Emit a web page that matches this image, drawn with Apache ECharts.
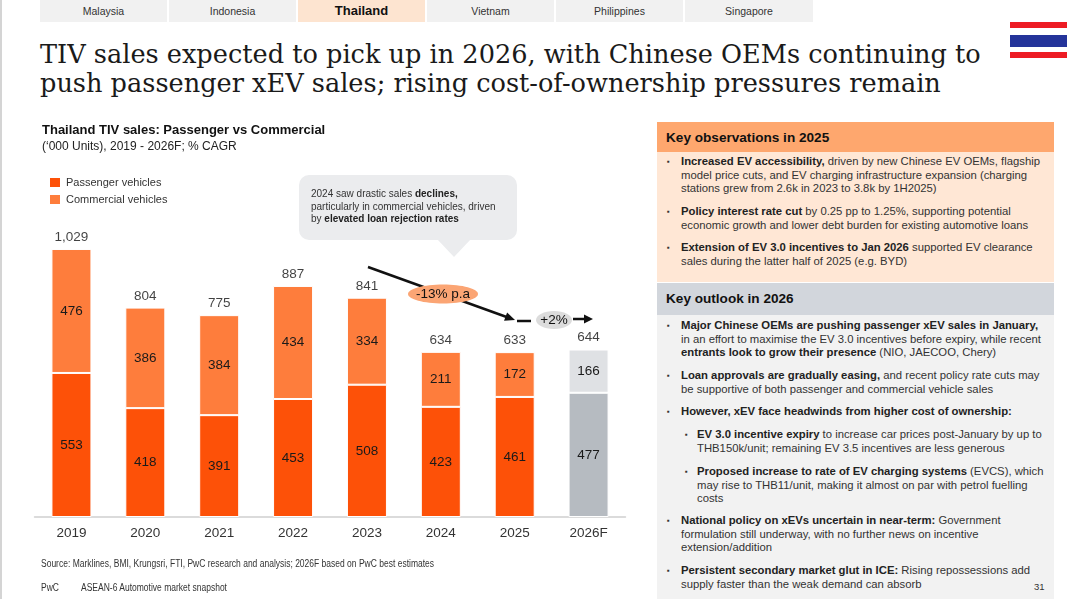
<!DOCTYPE html>
<html>
<head>
<meta charset="utf-8">
<script src="https://cdn.jsdelivr.net/npm/echarts@6/dist/echarts.min.js"></script>
<style>
body { margin: 0; width: 1080px; height: 599px; position: relative; overflow: hidden; background: #fff;
       font-family: 'Liberation Sans', Arial, sans-serif; color: #2b2b2b; }
.abs { position: absolute; white-space: nowrap; }
.tab { position: absolute; top: 0; height: 22px; background: #f1f1f1; font-size: 10.5px; line-height: 23px;
       text-align: center; color: #333; }
.tab.on { background: #fde4d0; font-size: 13px; font-weight: bold; color: #111; line-height: 22px; }
#title { left: 40px; top: 40px; font-family: 'DejaVu Serif', serif; font-size: 25.6px; line-height: 29px; color: #1a1a1a; }
.narrow { font-size: 10px; color: #333; transform: scaleX(0.85); transform-origin: 0 50%; }
.panel { position: absolute; left: 657px; width: 397px; }
.head { font-size: 13.6px; font-weight: bold; color: #111; padding-left: 9px; box-sizing: border-box; }
.item { position: absolute; font-size: 11.3px; line-height: 13.5px; color: #333; white-space: nowrap; }
.item .bl { position: absolute; left: 0; top: 0; font-size: 8px; }
.item .tx { padding-left: 14px; }
.item b { color: #222; }
#chart { position: absolute; left: 0; top: 0; width: 640px; height: 599px; }
</style>
</head>
<body>
<div style="position:absolute;left:0;top:0;width:2px;height:599px;background:#d4d4d4"></div>

<div class="tab" style="left:40px;width:127px">Malaysia</div>
<div class="tab" style="left:169px;width:127px">Indonesia</div>
<div class="tab on" style="left:298px;width:127px">Thailand</div>
<div class="tab" style="left:427px;width:127px">Vietnam</div>
<div class="tab" style="left:556px;width:127px">Philippines</div>
<div class="tab" style="left:685px;width:128px">Singapore</div>

<div class="abs" style="left:1010px;top:22px;width:57px;height:6px;background:#ed1c24"></div>
<div class="abs" style="left:1010px;top:35px;width:57px;height:12px;background:#24349a"></div>
<div class="abs" style="left:1010px;top:52px;width:57px;height:6px;background:#ed1c24"></div>

<div id="title" class="abs">TIV sales expected to pick up in 2026, with Chinese OEMs continuing to<br>push passenger xEV sales; rising cost-of-ownership pressures remain</div>

<div id="chart"></div>

<div class="abs" style="left:42px;top:122px;font-size:13px;font-weight:bold;color:#111">Thailand TIV sales: Passenger vs Commercial</div>
<div class="abs" style="left:42px;top:139px;font-size:12px;color:#222">(‘000 Units), 2019 - 2026F; % CAGR</div>

<div class="abs narrow" style="left:41px;top:558px">Source: Marklines, BMI, Krungsri, FTI, PwC research and analysis; 2026F based on PwC best estimates</div>
<div class="abs narrow" style="left:41px;top:582px">PwC</div>
<div class="abs narrow" style="left:81px;top:582px">ASEAN-6 Automotive market snapshot</div>

<div class="panel head" style="top:122px;height:30px;line-height:31px;background:#fea76e">Key observations in 2025</div>
<div class="panel" style="top:152px;height:130px;background:#ffe7d5"></div>
<div class="panel head" style="top:283px;height:32px;line-height:32px;background:#d2d6dc">Key outlook in 2026</div>
<div class="panel" style="top:315px;height:284px;background:#f2f2f2"></div>

<div class="item" style="left:667px;top:155px"><span class="bl">▪</span><div class="tx"><b>Increased EV accessibility,</b> driven by new Chinese EV OEMs, flagship<br>model price cuts, and EV charging infrastructure expansion (charging<br>stations grew from 2.6k in 2023 to 3.8k by 1H2025)</div></div>
<div class="item" style="left:667px;top:205px"><span class="bl">▪</span><div class="tx"><b>Policy interest rate cut</b> by 0.25 pp to 1.25%, supporting potential<br>economic growth and lower debt burden for existing automotive loans</div></div>
<div class="item" style="left:667px;top:241px"><span class="bl">▪</span><div class="tx"><b>Extension of EV 3.0 incentives to Jan 2026</b> supported EV clearance<br>sales during the latter half of 2025 (e.g. BYD)</div></div>

<div class="item" style="left:667px;top:319px"><span class="bl">▪</span><div class="tx"><b>Major Chinese OEMs are pushing passenger xEV sales in January,</b><br>in an effort to maximise the EV 3.0 incentives before expiry, while recent<br><b>entrants look to grow their presence</b> (NIO, JAECOO, Chery)</div></div>
<div class="item" style="left:667px;top:369px"><span class="bl">▪</span><div class="tx"><b>Loan approvals are gradually easing,</b> and recent policy rate cuts may<br>be supportive of both passenger and commercial vehicle sales</div></div>
<div class="item" style="left:667px;top:405px"><span class="bl">▪</span><div class="tx"><b>However, xEV face headwinds from higher cost of ownership:</b></div></div>
<div class="item" style="left:685px;top:428px"><span class="bl">▪</span><div class="tx" style="padding-left:12px"><b>EV 3.0 incentive expiry</b> to increase car prices post-January by up to<br>THB150k/unit; remaining EV 3.5 incentives are less generous</div></div>
<div class="item" style="left:685px;top:465px"><span class="bl">▪</span><div class="tx" style="padding-left:12px"><b>Proposed increase to rate of EV charging systems</b> (EVCS), which<br>may rise to THB11/unit, making it almost on par with petrol fuelling<br>costs</div></div>
<div class="item" style="left:667px;top:514px"><span class="bl">▪</span><div class="tx"><b>National policy on xEVs uncertain in near-term:</b> Government<br>formulation still underway, with no further news on incentive<br>extension/addition</div></div>
<div class="item" style="left:667px;top:564px"><span class="bl">▪</span><div class="tx"><b>Persistent secondary market glut in ICE:</b> Rising repossessions add<br>supply faster than the weak demand can absorb</div></div>
<div class="abs" style="left:1034px;top:581px;font-size:9.5px;color:#333">31</div>

<script>
// chart values, '000 units
var years = ['2019', '2020', '2021', '2022', '2023', '2024', '2025', '2026F'];
var passenger = [553, 418, 391, 453, 508, 423, 461, 477];
var commercial = [476, 386, 384, 434, 334, 211, 172, 166];
var totals = [1029, 804, 775, 887, 841, 634, 633, 644];
var cagrLabels = ['-13% p.a', '+2%'];
var seriesNames = ['Passenger vehicles', 'Commercial vehicles'];

var sans = "'Liberation Sans', Arial, sans-serif";
var fcIdx = years.indexOf('2026F');

// forecast year gets grey bars
function styled(vals, normal, forecast) {
    return vals.map((v, i) => ({ value: v, itemStyle: { color: i === fcIdx ? forecast : normal } }));
}

// arrowhead triangle pointing from (x1,y1) to (x2,y2)
function arrowHead(x1, y1, x2, y2, len, half) {
    var a = Math.atan2(y2 - y1, x2 - x1);
    var bx = x2 - len * Math.cos(a), by = y2 - len * Math.sin(a);
    return [[x2, y2],
            [bx + half * Math.sin(a), by - half * Math.cos(a)],
            [bx - half * Math.sin(a), by + half * Math.cos(a)]];
}

var chart = echarts.init(document.getElementById('chart'));
var inLabel = { show: true, position: 'inside', color: '#1a1a1a', fontSize: 13.5, fontFamily: sans };

var option = {
    animation: false,
    grid: { left: 34.5, right: 14.5, top: 230.5, bottom: 82 },
    legend: {
        data: seriesNames, orient: 'vertical', left: 43, top: 171,
        icon: 'rect', itemWidth: 12, itemHeight: 11, itemGap: 4,
        textStyle: { fontSize: 11, color: '#333', fontFamily: sans }
    },
    xAxis: {
        type: 'category', data: years,
        axisLine: { lineStyle: { color: '#d0d0d0', width: 1.5 } },
        axisTick: { length: 4, lineStyle: { color: '#d0d0d0' } },
        axisLabel: { color: '#333', fontSize: 13.5, fontFamily: sans, margin: 9 }
    },
    yAxis: { type: 'value', min: 0, max: 1100, show: false, splitLine: { show: false } },
    series: [
        { name: seriesNames[0], type: 'bar', stack: 'tiv', barWidth: 40,
          itemStyle: { color: '#fd5108', borderColor: '#fff', borderWidth: 1 },
          label: inLabel, data: styled(passenger, '#fd5108', '#b6bbc1') },
        { name: seriesNames[1], type: 'bar', stack: 'tiv', barWidth: 40,
          itemStyle: { color: '#fe7d3c', borderColor: '#fff', borderWidth: 1 },
          label: inLabel, data: styled(commercial, '#fe7d3c', '#dfe1e4') },
        { name: 'Total', type: 'scatter', symbolSize: 1, itemStyle: { color: 'rgba(0,0,0,0)' },
          label: { show: true, position: 'top', distance: 4, color: '#111', fontSize: 13.5, fontFamily: sans,
                   formatter: (p) => totals[p.dataIndex].toLocaleString('en-US') },
          data: totals, z: 5 }
    ],
    graphic: [
        // callout bubble
        { type: 'rect', shape: { x: 299, y: 175, width: 218, height: 65, r: 10 }, style: { fill: '#ebecee' } },
        { type: 'polygon', shape: { points: [[437, 239], [471, 239], [454, 257]] }, style: { fill: '#ebecee' } },
        { type: 'text', x: 311, y: 188,
          style: { text: '{n|2024 saw drastic sales }{b|declines,}\n{n|particularly in commercial vehicles, driven}\n{n|by }{b|elevated loan rejection rates}',
                   rich: { n: { fontSize: 10, fill: '#333', lineHeight: 12.5, fontFamily: sans },
                           b: { fontSize: 10, fill: '#222', fontWeight: 'bold', lineHeight: 12.5, fontFamily: sans } } } },
        // -13% trend arrow
        { type: 'line', shape: { x1: 368, y1: 267, x2: 508, y2: 317.5 }, style: { stroke: '#111', lineWidth: 2.5 } },
        { type: 'polygon', shape: { points: arrowHead(368, 267, 515, 320, 10, 4.5) }, style: { fill: '#111' } },
        { type: 'ellipse', shape: { cx: 443, cy: 294, rx: 35, ry: 9.5 }, style: { fill: '#fba574' } },
        { type: 'text', x: 443, y: 294, style: { text: cagrLabels[0], align: 'center', verticalAlign: 'middle', fontSize: 13.5, fontFamily: sans, fill: '#111' } },
        // +2% arrow
        { type: 'line', shape: { x1: 517, y1: 321, x2: 531, y2: 321 }, style: { stroke: '#111', lineWidth: 2.5 } },
        { type: 'ellipse', shape: { cx: 554, cy: 320, rx: 18, ry: 9 }, style: { fill: '#dcdcdc' } },
        { type: 'text', x: 554, y: 320, style: { text: cagrLabels[1], align: 'center', verticalAlign: 'middle', fontSize: 13.5, fontFamily: sans, fill: '#111' } },
        { type: 'line', shape: { x1: 573, y1: 319, x2: 585, y2: 319 }, style: { stroke: '#111', lineWidth: 2.5 } },
        { type: 'polygon', shape: { points: arrowHead(573, 319, 593, 319, 9, 4.5) }, style: { fill: '#111' } }
    ]
};
chart.setOption(option);
</script>
</body>
</html>
